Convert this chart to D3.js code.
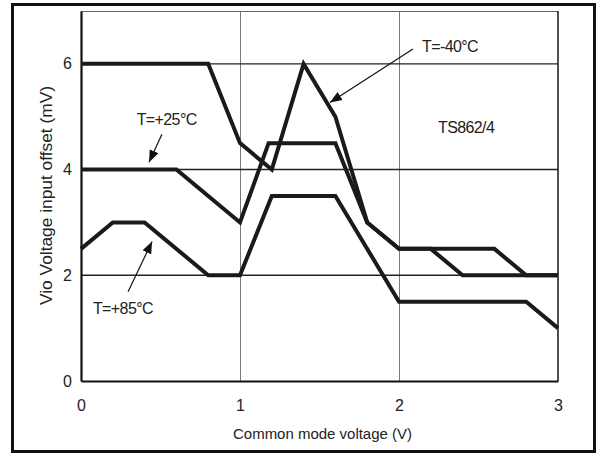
<!DOCTYPE html>
<html>
<head>
<meta charset="utf-8">
<script src="https://cdn.jsdelivr.net/npm/d3@7"></script>
<style>
  body { margin: 0; background: #fff; }
  svg { display: block; font-family: "Liberation Sans", Arial, sans-serif; }
</style>
</head>
<body>
<svg id="chart"></svg>
<script>
// ticks
var xTicks = [0, 1, 2, 3];
var yTicks = [0, 2, 4, 6];

// T=-40C
var vcm40 = [0, 0.8, 1.0, 1.2, 1.4, 1.6, 1.8, 2.0, 2.6, 2.8, 3.0];
var vio40 = [6, 6, 4.5, 4.0, 6, 5, 3, 2.5, 2.5, 2, 2];
// T=+25C
var vcm25 = [0, 0.6, 1.0, 1.18, 1.6, 1.8, 2.0, 2.2, 2.4, 3.0];
var vio25 = [4, 4, 3, 4.5, 4.5, 3, 2.5, 2.5, 2, 2];
// T=+85C
var vcm85 = [0, 0.2, 0.4, 0.8, 1.0, 1.2, 1.6, 2.0, 2.8, 3.0];
var vio85 = [2.5, 3, 3, 2, 2, 3.5, 3.5, 1.5, 1.5, 1.0];

// labels and arrows, in data units
var labelText = ["T=+25\u00B0C", "T=-40\u00B0C", "T=+85\u00B0C"];
var labelPos = [[0.35, 4.84], [2.145, 6.22], [0.075, 1.27]];
var arrowFrom = [[0.509, 4.67], [2.088, 6.28], [0.296, 1.69]];
var arrowTo = [[0.428, 4.14], [1.566, 5.27], [0.447, 2.64]];

var W = 599, H = 455;
var svg = d3.select('#chart').attr('width', W).attr('height', H);

var x = d3.scaleLinear().domain([0, 3]).range([81, 558]);
var y = d3.scaleLinear().domain([0, 7]).range([381, 11]);

// outer frame
svg.append('rect')
  .attr('x', 12.5).attr('y', 4.5)
  .attr('width', 582).attr('height', 447)
  .attr('fill', 'none').attr('stroke', '#111').attr('stroke-width', 3);

// grid
svg.append('g').selectAll('line')
  .data([1, 2])
  .enter().append('line')
  .attr('x1', function(d) { return x(d) + 0.5; })
  .attr('x2', function(d) { return x(d) + 0.5; })
  .attr('y1', y(0)).attr('y2', y(7))
  .attr('stroke', '#7a7a7a').attr('stroke-width', 1);

svg.append('g').selectAll('line')
  .data([2, 4, 6])
  .enter().append('line')
  .attr('x1', x(0)).attr('x2', x(3))
  .attr('y1', function(d) { return y(d); })
  .attr('y2', function(d) { return y(d); })
  .attr('stroke', '#222').attr('stroke-width', 1.4);

// plot border: top thin gray, right dark
svg.append('line')
  .attr('x1', x(0)).attr('x2', x(3)).attr('y1', y(7) + 0.5).attr('y2', y(7) + 0.5)
  .attr('stroke', '#666').attr('stroke-width', 1);
svg.append('line')
  .attr('x1', x(3)).attr('x2', x(3)).attr('y1', y(7)).attr('y2', y(0))
  .attr('stroke', '#222').attr('stroke-width', 1.6);

// axes
var xAxis = svg.append('g')
  .attr('transform', 'translate(0,' + y(0) + ')')
  .call(d3.axisBottom(x).tickValues(xTicks).tickSize(0).tickPadding(19).tickFormat(d3.format('d')));
var yAxis = svg.append('g')
  .attr('transform', 'translate(' + x(0) + ',0)')
  .call(d3.axisLeft(y).tickValues(yTicks).tickSize(0).tickPadding(9).tickFormat(d3.format('d')));

[xAxis, yAxis].forEach(function(a) {
  a.select('.domain').attr('stroke', '#111').attr('stroke-width', 2.2);
  a.selectAll('text')
    .attr('fill', '#222')
    .style('font-size', '16px')
    .style('font-family', '"Liberation Sans", Arial, sans-serif');
});

// curves
var line = d3.line()
  .x(function(d) { return x(d[0]); })
  .y(function(d) { return y(d[1]); });

[[vcm40, vio40], [vcm25, vio25], [vcm85, vio85]].forEach(function(s) {
  var pts = s[0].map(function(v, i) { return [v, s[1][i]]; });
  svg.append('path')
    .datum(pts)
    .attr('d', line)
    .attr('fill', 'none')
    .attr('stroke', '#1a1a1a')
    .attr('stroke-width', 4)
    .attr('stroke-linejoin', 'miter');
});

// arrow heads
svg.append('defs').append('marker')
  .attr('id', 'head')
  .attr('viewBox', '0 0 10 10')
  .attr('refX', 10).attr('refY', 5)
  .attr('markerWidth', 12).attr('markerHeight', 12)
  .attr('markerUnits', 'userSpaceOnUse')
  .attr('orient', 'auto')
  .append('path')
  .attr('d', 'M0,1 L10,5 L0,9 Z')
  .attr('fill', '#111');

labelText.forEach(function(t, i) {
  svg.append('line')
    .attr('x1', x(arrowFrom[i][0])).attr('y1', y(arrowFrom[i][1]))
    .attr('x2', x(arrowTo[i][0])).attr('y2', y(arrowTo[i][1]))
    .attr('stroke', '#111').attr('stroke-width', 1.2)
    .attr('marker-end', 'url(#head)');
  svg.append('text')
    .attr('x', x(labelPos[i][0])).attr('y', y(labelPos[i][1]))
    .style('font-size', '16px')
    .attr('letter-spacing', '-0.6')
    .attr('fill', '#222')
    .text(t);
});

svg.append('text')
  .attr('x', x(2.245)).attr('y', y(4.7))
  .style('font-size', '16px')
  .attr('letter-spacing', '-0.6')
  .attr('fill', '#222')
  .text('TS862/4');

// axis titles
svg.append('text')
  .attr('x', 233).attr('y', 439)
  .attr('textLength', 179).attr('lengthAdjust', 'spacingAndGlyphs')
  .style('font-size', '15px')
  .attr('fill', '#222')
  .text('Common mode voltage (V)');

svg.append('text')
  .attr('transform', 'translate(52,305) rotate(-90)')
  .attr('textLength', 219).attr('lengthAdjust', 'spacingAndGlyphs')
  .style('font-size', '16px')
  .attr('fill', '#222')
  .text('Vio Voltage input offset  (mV)');
</script>
</body>
</html>
